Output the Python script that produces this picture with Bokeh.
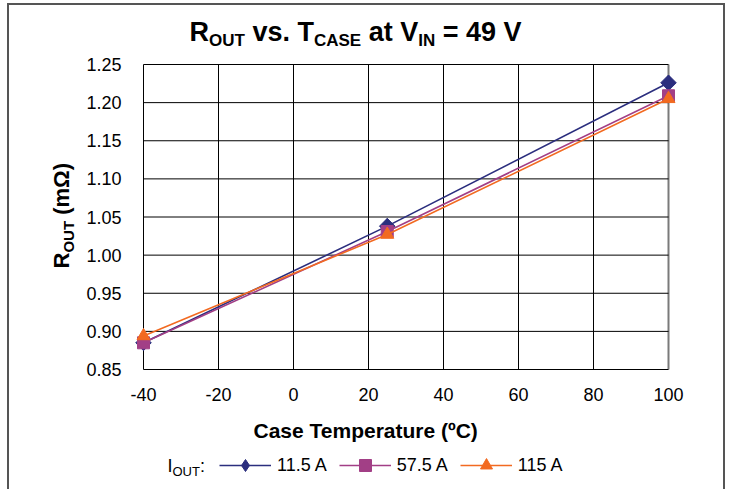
import math
from bokeh.plotting import figure
from bokeh.models import (Range1d, FixedTicker, Label, Legend, LegendItem,
                          PrintfTickFormatter)
from bokeh.embed import file_html
from bokeh.resources import INLINE

# ---------------- data ----------------
temps = [-40, 25, 100]
r_11_5 = [0.885, 1.038, 1.226]
r_57_5 = [0.885, 1.031, 1.209]
r_115 = [0.894, 1.027, 1.205]
series_names = ["11.5 A", "57.5 A", "115 A"]
x_ticks = [-40, -20, 0, 20, 40, 60, 80, 100]
y_ticks = [0.85, 0.90, 0.95, 1.00, 1.05, 1.10, 1.15, 1.20, 1.25]

# ---------------- layout ----------------
W, H = 718, 486
PL, PR, PT, PB = 134, 659, 59, 364      # grid box in canvas px
X0, X1 = -40, 100
Y0, Y1 = 0.85, 1.25
KX = (X1 - X0) / (PR - PL)
KY = (Y1 - Y0) / (PB - PT)
FONT = "Liberation Sans"

p = figure(width=W, height=H,
           x_range=Range1d(X0 - PL * KX, X1 + (W - PR) * KX),
           y_range=Range1d(Y0 - (H - PB) * KY, Y1 + PT * KY),
           output_backend="svg", toolbar_location=None, title=None,
           min_border=0, min_border_left=0, min_border_right=0,
           min_border_top=0, min_border_bottom=0)
p.styles = {"margin-left": "7px", "margin-top": "3px",
            "border-left": "2px solid #555555", "border-top": "2px solid #555555",
            "border-right": "2px solid #555555"}
p.background_fill_color = "white"
p.border_fill_color = "white"
p.outline_line_color = None
p.xgrid.visible = False
p.ygrid.visible = False

# grid box drawn from the tick arrays
p.segment(x0=x_ticks, y0=[Y0] * len(x_ticks), x1=x_ticks, y1=[Y1] * len(x_ticks),
          line_color=["black"] * (len(x_ticks) - 1) + ["#7a7a7a"],
          line_width=[1] * (len(x_ticks) - 1) + [2], level="underlay")
p.segment(x0=[X0] * len(y_ticks), y0=y_ticks, x1=[X1] * len(y_ticks), y1=y_ticks,
          line_color="black", line_width=1, level="underlay")

p.xaxis.fixed_location = Y0
p.yaxis.fixed_location = X0
p.xaxis.bounds = (X0, X1)
p.yaxis.bounds = (Y0, Y1)
p.xaxis.ticker = FixedTicker(ticks=x_ticks)
p.yaxis.ticker = FixedTicker(ticks=y_ticks)
p.xaxis.formatter = PrintfTickFormatter(format="%d")
p.yaxis.formatter = PrintfTickFormatter(format="%.2f")
for ax in (p.xaxis, p.yaxis):
    ax.axis_line_color = None
    ax.major_tick_line_color = None
    ax.minor_tick_line_color = None
    ax.major_tick_out = 0
    ax.major_tick_in = 0
    ax.major_label_text_font = FONT
    ax.major_label_text_font_size = "18px"
    ax.major_label_text_color = "black"
p.xaxis.major_label_standoff = 18
p.yaxis.major_label_standoff = 22

colors = ["#2B2E7E", "#A23F86", "#F26A21"]
series = [r_11_5, r_57_5, r_115]
items = []
for name, vals, col, mk in zip(series_names, series, colors, ["diamond", "square", "triangle"]):
    ln = p.line(temps, vals, line_color=col, line_width=1.6)
    if mk == "diamond":
        # diamond marker (used by the legend), covered by a rotated square in the plot
        sc = p.scatter(temps, vals, marker="diamond", size=15, fill_color=col, line_color=col)
        p.scatter(temps, vals, marker="square", size=11, angle=math.pi / 4,
                  fill_color=col, line_color=col)
    elif mk == "square":
        sc = p.scatter(temps, vals, marker="square", size=12, fill_color=col, line_color=col)
    else:
        sc = p.scatter(temps, vals, marker="triangle", size=13, fill_color=col, line_color=col)
    items.append(LegendItem(label=name, renderers=[ln, sc]))

legend = Legend(items=items, orientation="horizontal", location=(210, 11),
                glyph_width=52, glyph_height=30, label_height=30, label_standoff=6,
                spacing=12, padding=0, margin=0, border_line_color=None,
                background_fill_alpha=0, label_text_font=FONT,
                label_text_font_size="18px", label_text_color="black")
p.add_layout(legend)

# ---------------- texts ----------------
BOLD = {' ': 278, 'R': 722, 'O': 778, 'U': 722, 'T': 611, 'v': 556, 's': 556, '.': 278,
        'C': 722, 'A': 722, 'S': 667, 'E': 667, 'a': 556, 't': 333, 'V': 667, 'I': 278,
        'N': 722, '=': 584, '4': 556, '9': 556, '(': 333, ')': 333, 'm': 889, 'Ω': 768}
REG = {' ': 278, 'I': 278, 'O': 778, 'U': 722, 'T': 611, ':': 278}
CAP = 0.358   # half cap height / em (text is anchored at its middle)


def tw(s, size, bold):
    tab = BOLD if bold else REG
    return sum(tab.get(c, 556) for c in s) * size / 1000.0


def dx(xf):
    return X0 + (xf - PL) * KX


def dy(yf):
    return Y1 - (yf - PT) * KY


def pieces(parts, x0, base, bold, vertical=False):
    """parts: (text, size, baseline offset). base: baseline in canvas px."""
    pos = 0.0
    for txt, size, off in parts:
        lead = len(txt) - len(txt.lstrip(" "))
        pos += tw(" " * lead, size, bold)
        core = txt.strip(" ")
        mid = base + off - CAP * size
        if vertical:
            lx, ly, ang = mid, x0 - pos, math.pi / 2
        else:
            lx, ly, ang = x0 + pos, mid, 0
        p.add_layout(Label(x=dx(lx), y=dy(ly), text=core, angle=ang,
                           text_font=FONT, text_font_size=f"{size}px",
                           text_font_style="bold" if bold else "normal",
                           text_color="black", text_align="left",
                           text_baseline="middle"))
        pos += tw(txt.lstrip(" "), size, bold)


# title
pieces([("R", 27, 0), ("OUT", 17, 5), (" vs. T", 27, 0), ("CASE", 17, 5),
        (" at V", 27, 0), ("IN", 17, 5), (" = 49 V", 27, 0)], 180, 36.5, True)
# y axis title (rotated; x0 is the start along the text, base is the baseline x)
pieces([("R", 22, 0), ("OUT", 15, 4), (" (mΩ)", 22, 0)], 263, 52 + CAP * 22, True,
       vertical=True)
# x axis title
pieces([("Case Temperature (ºC)", 21, 0)], 244, 425 + CAP * 21, True)
# legend prefix
pieces([("I", 18, 0), ("OUT", 13, 4), (":", 18, 0)], 158, 460 + CAP * 18, False)

open("out.html", "w").write(file_html(p, INLINE))
